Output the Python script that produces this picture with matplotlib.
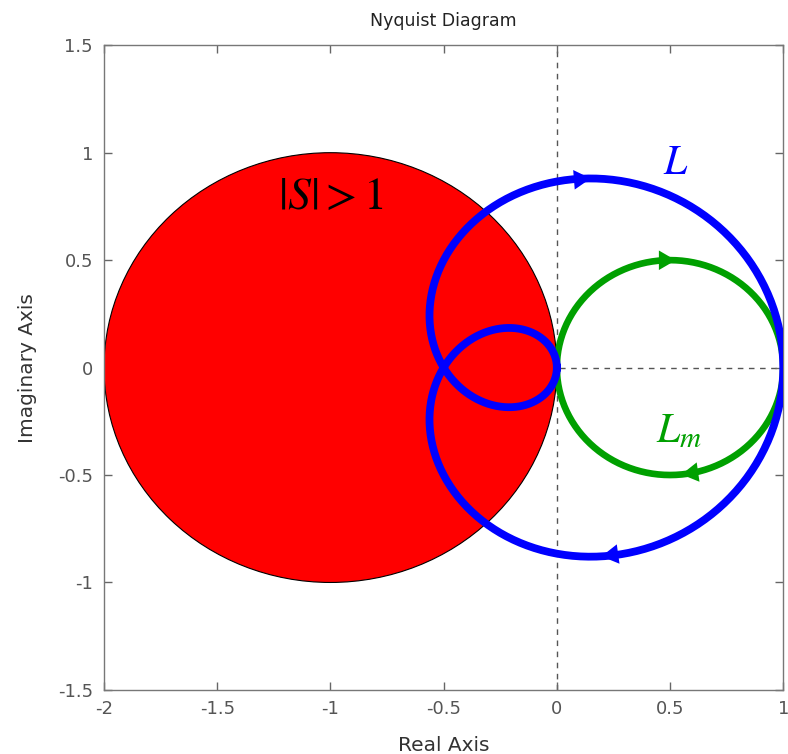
import numpy as np
import matplotlib
matplotlib.use('Agg')
import matplotlib.pyplot as plt
from matplotlib.patches import Circle

plt.rcParams['font.family'] = ['DejaVu Sans']
plt.rcParams['mathtext.fontset'] = 'stix'

# loop transfer functions as polynomials in z^-1 = e^{-jw} (lowest power first)
L_coef = [0.0, 0.5, 0.5]
Lm_coef = [0.5, 0.5]
# |S|>1 region: |1+L|<1 -> disk around -1
disk_center = (-1.0, 0.0)
disk_radius = 1.0
# frequencies (rad/sample) where the direction arrows sit
L_arrow_w = [-0.985, 0.85]
Lm_arrow_w = [-1.571, 1.42]

xticks = [-2, -1.5, -1, -0.5, 0, 0.5, 1]
yticks = [-1.5, -1, -0.5, 0, 0.5, 1, 1.5]
xtick_labels = ['-2', '-1.5', '-1', '-0.5', '0', '0.5', '1']
ytick_labels = ['-1.5', '-1', '-0.5', '0', '0.5', '1', '1.5']


def freqresp(coef, w):
    z = np.exp(-1j * np.asarray(w))
    return sum(c * z**k for k, c in enumerate(coef))


w = np.linspace(-np.pi, np.pi, 241)
L = freqresp(L_coef, w)
Lm = freqresp(Lm_coef, w)

fig = plt.figure(figsize=(7.88, 7.54), dpi=100)
ax = fig.add_axes([0.132, 0.085, 0.862, 0.855])

ax.axvline(0, color='#555555', ls=(0, (4, 4)), lw=1.0, zorder=1)
ax.axhline(0, color='#555555', ls=(0, (4, 4)), lw=1.0, zorder=1)

ax.add_patch(Circle(disk_center, disk_radius, facecolor='#ff0000',
                    edgecolor='black', lw=0.8, zorder=2))

blue = '#0000ff'
green = '#00a000'
ax.plot(Lm.real, Lm.imag, color=green, lw=4.8, zorder=3)
ax.plot(L.real, L.imag, color=blue, lw=5.6, zorder=4)

for coef, ws, col in [(L_coef, L_arrow_w, blue), (Lm_coef, Lm_arrow_w, green)]:
    for wa in ws:
        p0 = freqresp(coef, wa - 0.05)
        p1 = freqresp(coef, wa + 0.05)
        ax.annotate('', xy=(p1.real, p1.imag), xytext=(p0.real, p0.imag),
                    arrowprops=dict(arrowstyle='-|>,head_length=0.55,head_width=0.32',
                                    color=col, lw=0, mutation_scale=22,
                                    shrinkA=0, shrinkB=0),
                    zorder=5)

ax.text(-1.23, 0.74, r'$\left|S\right| > 1$', fontsize=33, color='black', zorder=6)
ax.text(0.47, 0.9, r'$L$', fontsize=30, color=blue, zorder=6)
ax.text(0.44, -0.35, r'$L_m$', fontsize=30, color=green, zorder=6)

ax.set_xlim(-2, 1)
ax.set_ylim(-1.5, 1.5)
ax.set_xticks(xticks)
ax.set_xticklabels(xtick_labels)
ax.set_yticks(yticks)
ax.set_yticklabels(ytick_labels)
ax.tick_params(direction='in', length=6, width=1, color='#666666',
               labelcolor='#555555', labelsize=13, top=True, right=True)
ax.tick_params(axis='x', pad=7)
ax.tick_params(axis='y', pad=8)
for s in ax.spines.values():
    s.set_color('#777777')
    s.set_linewidth(1.0)

ax.set_title('Nyquist Diagram', fontsize=12.5, color='#222222', pad=14)
ax.set_xlabel('Real Axis', fontsize=14.5, color='#333333', labelpad=13)
ax.set_ylabel('Imaginary Axis', fontsize=14.5, color='#333333', labelpad=15)

fig.savefig('out.png', dpi=100)
